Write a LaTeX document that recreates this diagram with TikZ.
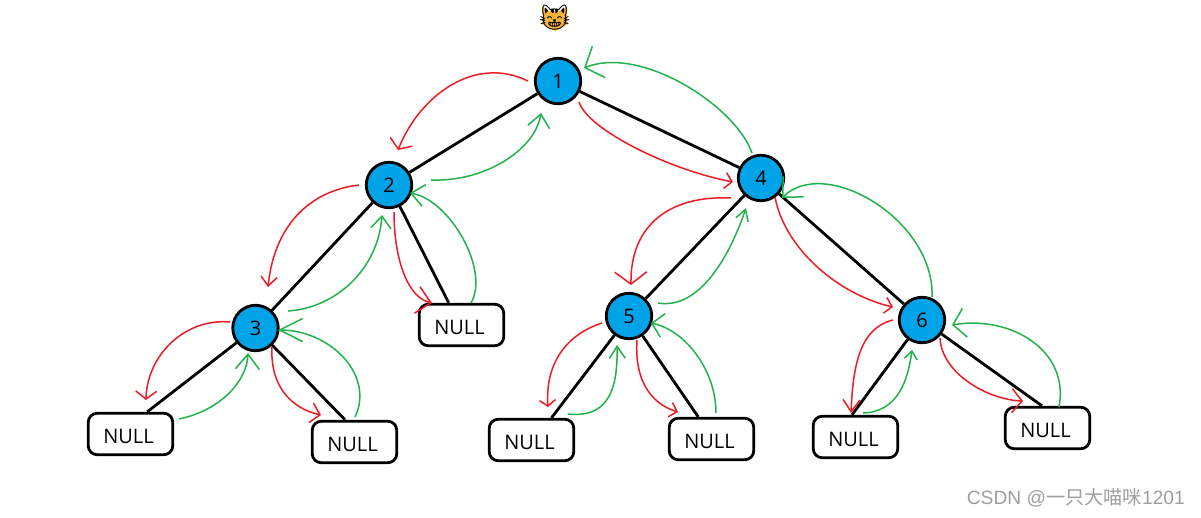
\documentclass[tikz,border=0pt]{standalone}
\usepackage{fontspec}
\setmainfont{Open Sans}
\newfontfamily\markfont{Liberation Sans}
\newfontfamily\cjk{Noto Sans CJK SC}
\newfontfamily\emojifont{Noto Emoji}
\usetikzlibrary{arrows.meta}
\definecolor{nodeblue}{HTML}{00A2E8}
\definecolor{walkred}{HTML}{ED1C24}
\definecolor{walkgreen}{HTML}{22B14C}
\definecolor{catfur}{HTML}{F4B53F}

\begin{document}
\begin{tikzpicture}[
    x=1pt, y=-1pt,
    treenode/.style={circle, draw, line width=2.8pt, fill=nodeblue, inner sep=0pt, minimum size=45.5pt, font=\fontsize{20}{24}\selectfont},
    nullbox/.style={rectangle, draw, line width=2.8pt, rounded corners=9pt, fill=white, inner sep=0pt, minimum width=84.5pt, minimum height=41.5pt, text height=18pt, text depth=0pt, execute at end node=\kern4pt, font=\fontsize{20}{24}\selectfont},
    edge/.style={line width=2.8pt},
    godown/.style={draw=walkred, line width=1.5pt},
    goback/.style={draw=walkgreen, line width=1.5pt},
    head/.style 2 args={-{Straight Barb[length=#1pt, width=#2pt]}}
  ]
    \useasboundingbox (0,0) rectangle (1201,517);

    % tree nodes
    \node[treenode] (n1) at (558,81) {1};
    \node[treenode] (n2) at (389,185) {2};
    \node[treenode] (n3) at (255.5,328) {3};
    \node[treenode] (n4) at (761,178) {4};
    \node[treenode] (n5) at (629,316) {5};
    \node[treenode] (n6) at (922,320) {6};

    % empty children
    \node[nullbox] (nl3) at (130.5,434) {NULL};
    \node[nullbox] (nr3) at (354.5,442) {NULL};
    \node[nullbox] (nr2) at (461.5,325) {NULL};
    \node[nullbox] (nl5) at (531.5,440) {NULL};
    \node[nullbox] (nr5) at (711.5,439) {NULL};
    \node[nullbox] (nl6) at (855.5,437) {NULL};
    \node[nullbox] (nr6) at (1047.5,428) {NULL};

    \draw[edge] (n1) -- (n2);
    \draw[edge] (n1) -- (n4);
    \draw[edge] (n2) -- (n3);
    \draw[edge] (n2) -- (nr2.120);
    \draw[edge] (n3) -- (nl3.53);
    \draw[edge] (n3) -- (nr3.113);
    \draw[edge] (n4) -- (n5);
    \draw[edge] (n4) -- (n6);
    \draw[edge] (n5) -- (nl5.48);
    \draw[edge] (n5) -- (nr5.121);
    \draw[edge] (n6) -- (nl6.99);
    \draw[edge] (n6) -- (nr6.104);

    % red strokes, going down
    \draw[godown, head={8}{24}] ([shift={(-30,0)}]n1.center) .. controls (475,55) and (420,95) .. ([shift={(9,-35)}]n2.center);
    \draw[godown, head={7}{16}] ([shift={(21,21)}]n1.center) .. controls (588,130) and (670,170) .. ([shift={(-28,4)}]n4.center);
    \draw[godown, head={9}{16}] ([shift={(-30,0)}]n2.center) .. controls (315,190) and (275,220) .. ([shift={(12.5,-41)}]n3.center);
    \draw[godown, head={14}{27}] ([shift={(5,27)}]n2.center) .. controls (394,260) and (408,298) .. ([shift={(-29.5,-22)}]nr2.center);
    \draw[godown, head={8}{21}] ([shift={(-25.5,-6)}]n3.center) .. controls (185,318) and (147,355) .. ([shift={(15.5,-34)}]nl3.center);
    \draw[godown, head={9}{20}] ([shift={(16.5,19)}]n3.center) .. controls (270,385) and (290,408) .. ([shift={(-33.5,-27)}]nr3.center);
    \draw[godown, head={12}{32}] ([shift={(-30,20)}]n4.center) .. controls (670,195) and (630,225) .. ([shift={(2,-31)}]n5.center);
    \draw[godown, head={7}{16}] ([shift={(14,19)}]n4.center) .. controls (785,250) and (840,295) .. ([shift={(-29,-13)}]n6.center);
    \draw[godown, head={6}{16}] ([shift={(-27,7)}]n5.center) .. controls (565,335) and (545,365) .. ([shift={(16.5,-33)}]nl5.center);
    \draw[godown, head={7}{15}] ([shift={(8,24)}]n5.center) .. controls (634,385) and (655,405) .. ([shift={(-33.5,-27)}]nr5.center);
    \draw[godown, head={12}{17}] ([shift={(-29,0)}]n6.center) .. controls (860,328) and (853,365) .. ([shift={(-4.5,-24)}]nl6.center);
    \draw[godown, head={10}{24}] ([shift={(18,18)}]n6.center) .. controls (942,375) and (990,400) .. ([shift={(-24.5,-27)}]nr6.center);

    % green strokes, coming back
    \draw[goback, head={15}{34}] ([shift={(-9,-25)}]n4.center) .. controls (735,105) and (640,45) .. ([shift={(26,-13)}]n1.center);
    \draw[goback, head={13}{22}] ([shift={(42,-5)}]n2.center) .. controls (485,182) and (535,150) .. ([shift={(-17,32)}]n1.center);
    \draw[goback, head={12}{20}] ([shift={(32.5,-17)}]n3.center) .. controls (335,308) and (378,270) .. ([shift={(-7,30)}]n2.center);
    \draw[goback, head={13}{22}] ([shift={(9.5,-22)}]nr2.center) .. controls (490,270) and (450,200) .. ([shift={(21,8)}]n2.center);
    \draw[goback, head={15}{24}] ([shift={(48.5,-15)}]nl3.center) .. controls (222,410) and (247,380) .. ([shift={(-7.5,25)}]n3.center);
    \draw[goback, head={23}{23}] ([shift={(0.5,-25)}]nr3.center) .. controls (375,375) and (330,330) .. ([shift={(22.5,2)}]n3.center);
    \draw[goback, head={11}{13}] ([shift={(29,-13)}]n5.center) .. controls (700,310) and (730,255) .. ([shift={(-15,30)}]n4.center);
    \draw[goback, head={15}{29}] ([shift={(10,-23)}]n6.center) .. controls (935,220) and (825,155) .. ([shift={(21,20)}]n4.center);
    \draw[goback, head={12}{16}] ([shift={(36.5,-26)}]nl5.center) .. controls (607,418) and (618,392) .. ([shift={(-12,29)}]n5.center);
    \draw[goback, head={11}{24}] ([shift={(4.5,-26)}]nr5.center) .. controls (716,370) and (685,330) .. ([shift={(22,7)}]n5.center);
    \draw[goback, head={8}{13}] ([shift={(7.5,-24)}]nl6.center) .. controls (898,412) and (908,380) .. ([shift={(-10,30)}]n6.center);
    \draw[goback, head={12}{29}] ([shift={(11.5,-21)}]nr6.center) .. controls (1070,350) and (1010,315) .. ([shift={(30,5)}]n6.center);

    % cat on top, fur colour goes under the glyph
    \fill[catfur] (542,6) -- (548,11) -- (562,11) -- (567,6) -- (567,20) -- (568,24) -- (555,31) -- (542,24) -- (543,20) -- cycle;
    \node[inner sep=0pt, font=\emojifont\fontsize{26}{30}\selectfont] (cat) at (554.5,18) {😸};

    \node[inner sep=0pt, text=black!38, font=\fontsize{19.2}{22}\selectfont, anchor=east] (mark) at (1185,498) {\markfont CSDN @\cjk 一只大喵咪\markfont 1201};
  \end{tikzpicture}
\end{document}
